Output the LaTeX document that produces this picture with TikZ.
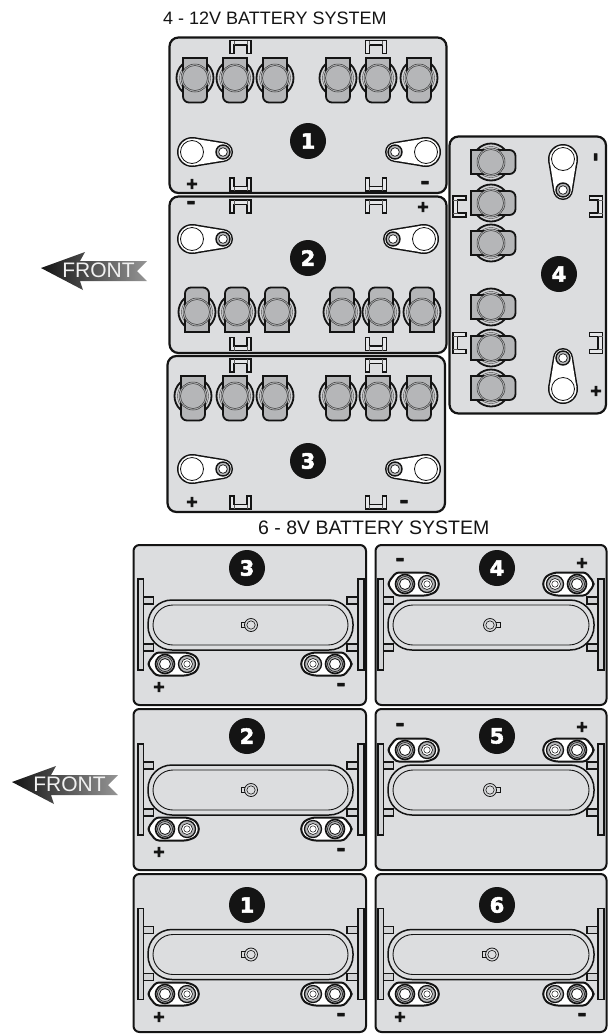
\documentclass[tikz,border=0pt]{standalone}
\usepackage{fontspec}
\setmainfont{Liberation Sans}
\newfontfamily\heavier[FakeBold=2.5]{DejaVu Sans Bold}
\newfontfamily\heaviest[FakeBold=6]{DejaVu Sans Bold}
\definecolor{boxgray}{HTML}{DCDDDF}
\definecolor{tabgray}{HTML}{B5B6B8}
\definecolor{ringgray}{HTML}{D0D1D3}
\definecolor{railgray}{HTML}{D2D3D5}
\definecolor{ink}{HTML}{141414}
\tikzset{
  case12/.style={draw=ink,line width=2.2pt,fill=boxgray,rounded corners=9pt},
  case8/.style={draw=ink,line width=2pt,fill=boxgray,rounded corners=6pt},
  badge/.style={circle,fill=ink,text=white,minimum size=36pt,inner sep=0pt,font=\heavier\fontsize{21}{21}\selectfont},
  plusmark/.style={inner sep=0pt,text=ink,font=\heaviest\fontsize{15}{15}\selectfont},
  minusmark/.style={inner sep=0pt,text=ink,font=\heavier\fontsize{22}{22}\selectfont},
  heading/.style={inner sep=0pt,anchor=base west,text=ink,font=\fontsize{18}{18}\selectfont},
  headinglow/.style={inner sep=0pt,anchor=base west,text=ink,font=\fontsize{19.5}{19.5}\selectfont},
  fronttext/.style={inner sep=0pt,text=white!94!black,font=\fontsize{21}{21}\selectfont},
  pics/clip/.style={code={
    \draw[draw=ink,line width=1.2pt,fill=boxgray!70!white] (-10.5,6.5) -- (-10.5,-6.5) -- (10.5,-6.5) -- (10.5,6.5) -- (6.5,6.5) -- (6.5,-2) -- (-6.5,-2) -- (-6.5,6.5) -- cycle;
    \draw[draw=ink!70,line width=.5pt] (-6.5,-2) -- (-6.5,-6.5) (6.5,-2) -- (6.5,-6.5);
  }},
  pics/post/.style={code={
    \draw[draw=ink,line width=1.8pt,fill=ringgray] (0,0) circle (18.5pt);
    \draw[draw=ink!80,line width=.4pt] (0,0) circle (15.5pt);
    \draw[draw=ink,line width=1.8pt,fill=tabgray] (-12,-20) -- (12,-20) [rounded corners=6pt] -- (12,24.5) -- (-12,24.5) [sharp corners] -- cycle;
    \draw[draw=ink!85,line width=.5pt,fill=tabgray] (0,0) circle (14pt);
    \draw[draw=ink!85,line width=.5pt] (0,0) circle (12.5pt);
  }},
  pics/flatlug/.style={code={
    \fill[ink] (0,0) circle (15pt) (31,0) circle (10pt);
    \fill[ink] (2.4,14.8) -- (32.6,9.87) -- (32.6,-9.87) -- (2.4,-14.8) -- cycle;
    \fill[white] (0,0) circle (13.5pt) (31,0) circle (8.5pt);
    \fill[white] (2.2,13.3) -- (32.4,8.4) -- (32.4,-8.4) -- (2.2,-13.3) -- cycle;
    \draw[draw=ink,line width=.8pt] (0,0) circle (11.5pt);
    \draw[draw=ink,line width=1.4pt,fill=tabgray] (31,0) circle (7pt);
    \draw[draw=ink,line width=.7pt,fill=white] (31,0) circle (4.3pt);
  }},
  pics/postlug/.style={code={
    \draw[draw=ink,line width=2pt,fill=white,rounded corners=3pt] (-16.5,-2) -- (-9,-11.5) -- (22,-11.5) -- (31,-8) -- (34.5,0) -- (31,8) -- (22,11.5) -- (-9,11.5) -- (-16.5,2) -- cycle;
    \draw[draw=ink,line width=1.6pt,fill=tabgray] (0,0) circle (9.5pt);
    \draw[draw=ink,line width=.6pt] (0,0) circle (7.5pt);
    \draw[draw=ink,line width=.8pt,fill=white] (0,0) circle (5.5pt);
    \draw[draw=ink,line width=1.3pt,fill=tabgray] (22,0) circle (8.5pt);
    \draw[draw=ink,line width=.6pt,fill=white] (22,0) circle (5.5pt);
    \draw[draw=ink,line width=.5pt] (22,0) circle (3.2pt);
  }},
  pics/arrowfront/.style={code={
    \shade[left color=ink,middle color=ink,right color=ink!45!white] (0,0) -- (44,-16) -- (39,-7) -- (106,-7) -- (96,3) -- (106,13) -- (39,13) -- (42,22) -- cycle;
  }}
}
% #1 rail-left #2 rail-right (x of outer rail edges), #3 capsule left, #4 capsule right, #5 centre y
\newcommand{\traybody}[5]{%
  \draw[draw=ink,line width=1.1pt,fill=railgray] (#1,#5-46) rectangle ++(5.5,91);
  \draw[draw=ink,line width=1.1pt,fill=railgray] (#2,#5-46) rectangle ++(-6,91);
  \draw[draw=ink,line width=1.1pt,fill=railgray] (#1+5.5,#5-28) rectangle ++(10,7);
  \draw[draw=ink,line width=1.1pt,fill=railgray] (#1+5.5,#5+19) rectangle ++(10,7);
  \draw[draw=ink,line width=1.1pt,fill=railgray] (#2-6,#5-28) rectangle ++(-11,7);
  \draw[draw=ink,line width=1.1pt,fill=railgray] (#2-6,#5+19) rectangle ++(-11,7);
  \draw[draw=ink,line width=1.5pt,fill=boxgray,rounded corners=24pt] (#3,#5-25) rectangle (#4,#5+25);
  \draw[draw=ink,line width=.9pt,rounded corners=20pt] (#3+5,#5-20) rectangle (#4-5,#5+20);
}
% vent: #1 x, #2 y, #3 direction of the small tab (1 or -1)
\newcommand{\vent}[3]{%
  \draw[draw=ink,line width=.8pt,fill=boxgray] (#1+#3*5,#2-2.8) rectangle (#1+#3*10,#2+2.8);
  \draw[draw=ink,line width=.8pt,fill=boxgray] (#1,#2) circle (6.5pt);
  \draw[draw=ink,line width=.6pt] (#1,#2) circle (4.2pt);
}
\begin{document}
\begin{tikzpicture}[x=1pt,y=-1pt]
\useasboundingbox (0,0) rectangle (608,1034);

% --- 12 V system ---
\node[heading] (title12) at (163,24) {4 - 12V BATTERY SYSTEM};

% battery 4 (drawn first, right column)
\draw[case12] (449.5,136.5) rectangle (606,413.5);
\foreach \yy in {162,203,243,307,348,388} \pic[rotate=90] at (491,\yy) {post};
\foreach \yy in {206.5,343} {
  \pic[rotate=90] at (459.5,\yy) {clip};
  \pic[rotate=-90] at (596,\yy) {clip};
}
\pic[rotate=-90] at (563,159) {flatlug};
\pic[rotate=90] at (563,389) {flatlug};
\node[badge] (n4) at (559,274) {4};
\node[minusmark,rotate=90] (m4) at (598,157) {-};
\node[plusmark] (p4) at (596,391) {+};

% battery 1
\draw[case12] (169.5,37.5) rectangle (446.5,193);
\foreach \xx in {195,235,275,338,378,419} \pic at (\xx,78) {post};
\foreach \xx in {240.5,376} {
  \pic at (\xx,47) {clip};
  \pic[rotate=180] at (\xx,184.5) {clip};
}
\pic at (192,152) {flatlug};
\pic[rotate=180] at (426,152) {flatlug};
\node[badge] (n1) at (308,141) {1};
\node[plusmark] (p1) at (192,184) {+};
\node[minusmark] (m1) at (425,185) {-};

% battery 2
\draw[case12] (169.5,196.5) rectangle (446.5,353);
\foreach \xx in {197,237,277,342,381,422} \pic[rotate=180] at (\xx,312) {post};
\foreach \xx in {240.5,376} {
  \pic at (\xx,206.5) {clip};
  \pic[rotate=180] at (\xx,344) {clip};
}
\pic at (192,239) {flatlug};
\pic[rotate=180] at (424,239) {flatlug};
\node[badge] (n2) at (308,258) {2};
\node[minusmark] (m2) at (191,205) {-};
\node[plusmark] (p2) at (423,207) {+};

% battery 3
\draw[case12] (167.5,356) rectangle (445,512);
\foreach \xx in {193,235,275,338,378,419} \pic at (\xx,396) {post};
\foreach \xx in {240.5,376} {
  \pic at (\xx,365.5) {clip};
  \pic[rotate=180] at (\xx,502.5) {clip};
}
\pic at (192,469) {flatlug};
\pic[rotate=180] at (426,469) {flatlug};
\node[badge] (n3) at (308,461) {3};
\node[plusmark] (p3) at (192,502) {+};
\node[minusmark] (m3) at (404,504) {-};

% FRONT arrow, upper
\pic at (41,268) {arrowfront};
\node[fronttext] (front12) at (98.5,270) {FRONT};

% --- 6 - 8 V system ---
\node[headinglow] (title8) at (258,534) {6 - 8V BATTERY SYSTEM};

% left column
\foreach \top/\bot/\cy/\ly/\my/\by/\lab in {
  545/705/625/664/687/568/3,
  709/870/790/829/852/736/2,
  874/1032/954.5/994/1017/905/1} {
  \draw[case8] (133.5,\top) rectangle (366,\bot);
  \traybody{138}{364}{148}{353}{\cy}
  \vent{251}{\cy}{-1}
  \pic at (165,\ly) {postlug};
  \pic[xscale=-1] at (335,\ly) {postlug};
  \node[plusmark] (pL\lab) at (159,\my) {+};
  \node[minusmark] (mL\lab) at (341,\my) {-};
  \node[badge] (nL\lab) at (247,\by) {\lab};
}

% right column
\foreach \top/\bot/\cy/\by/\lab in {545/705/625/568/4, 709/870/790/736/5} {
  \draw[case8] (375.5,\top) rectangle (606.5,\bot);
  \traybody{378}{604}{388}{594}{\cy}
  \vent{490}{\cy}{1}
  \node[badge] (nR\lab) at (497,\by) {\lab};
}
\pic at (405,584) {postlug};
\pic[xscale=-1] at (577,584) {postlug};
\pic at (405,750) {postlug};
\pic[xscale=-1] at (577,750) {postlug};
\node[minusmark] (mR4) at (400,562) {-};
\node[plusmark] (pR4) at (582,563) {+};
\node[minusmark] (mR5) at (400,727) {-};
\node[plusmark] (pR5) at (582,727) {+};

\draw[case8] (375.5,874) rectangle (606.5,1032);
\traybody{378}{604}{388}{594}{954.5}
\vent{492}{954.5}{-1}
\pic at (405,994) {postlug};
\pic[xscale=-1] at (577,994) {postlug};
\node[plusmark] (pR6) at (400,1017) {+};
\node[minusmark] (mR6) at (582,1017) {-};
\node[badge] (nR6) at (497,905) {6};

% FRONT arrow, lower
\pic at (12,782) {arrowfront};
\node[fronttext] (front8) at (69.5,784) {FRONT};
\end{tikzpicture}
\end{document}
